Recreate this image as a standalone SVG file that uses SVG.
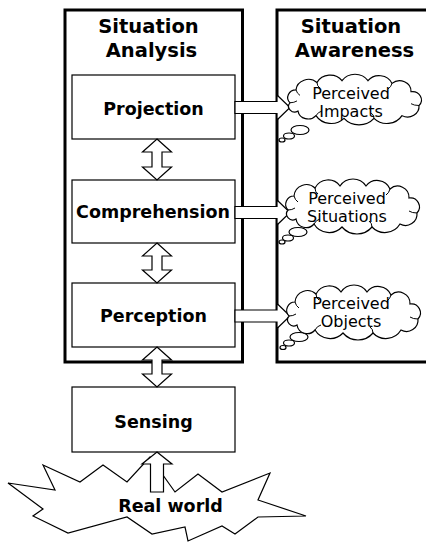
<svg xmlns="http://www.w3.org/2000/svg" xmlns:xlink="http://www.w3.org/1999/xlink" width="426" height="542" viewBox="0 0 426 542">
<style>
.outer{fill:#fff;stroke:#000;stroke-width:3}
.box{fill:#fff;stroke:#000;stroke-width:1.2}
.arr{fill:#fff;stroke:#000;stroke-width:1.2;stroke-linejoin:miter}
.cloud{fill:#fff;stroke:#000;stroke-width:1.2}
.curl{fill:none;stroke:#000;stroke-width:1}
.b{font-family:"DejaVu Sans",Verdana,sans-serif;font-weight:bold;font-size:17.5px;text-anchor:middle;fill:#000}
.t{font-family:"DejaVu Sans",Verdana,sans-serif;font-weight:bold;font-size:19.5px;text-anchor:middle;fill:#000}
.r{font-family:"DejaVu Sans",Verdana,sans-serif;font-size:16px;text-anchor:middle;fill:#000}
</style>
<defs>
<path id="cloudShape" d="M -64 3 A 8.3 8.3 0 0 1 -58 -11 A 12.5 12.5 0 0 1 -37 -19 A 14.7 14.7 0 0 1 -12 -21 A 15.6 15.6 0 0 1 14 -21 A 14 14 0 0 1 38 -18 A 11.4 11.4 0 0 1 57 -9 A 9 9 0 0 1 65 6 A 11.5 11.5 0 0 1 48 17 A 17.7 17.7 0 0 1 20 20 A 19.6 19.6 0 0 1 -10 20 A 17.7 17.7 0 0 1 -38 17 A 10.3 10.3 0 0 1 -56 12 A 6.1 6.1 0 0 1 -64 3 Z"/>
<path id="cloudCurls" d="M -58 -11 Q -57 -7 -54 -5 M -37 -19 Q -37 -15 -34 -13 M 38 -18 Q 37 -14 34 -12 M 65 6 Q 60 6 57 4 M 20 20 Q 20 16 17 14 M -38 17 Q -36 13 -32 12 M -64 3 Q -60 3 -57 1"/>
</defs>

<g id="situation-analysis">
<rect class="outer" x="65" y="10" width="177.5" height="352"/>
<text class="t" x="148.5" y="33">Situation</text>
<text class="t" x="151.5" y="57">Analysis</text>
</g>
<g id="situation-awareness">
<rect class="outer" x="277" y="10" width="170" height="352"/>
<text class="t" x="351" y="33">Situation</text>
<text class="t" x="354.5" y="57">Awareness</text>
</g>

<g id="projection">
<rect class="box" x="72" y="75" width="163" height="64"/>
<text class="b" x="153.5" y="115">Projection</text>
</g>
<g id="comprehension">
<rect class="box" x="72" y="180" width="163" height="63"/>
<text class="b" x="153" y="218">Comprehension</text>
</g>
<g id="perception">
<rect class="box" x="72" y="283" width="163" height="64"/>
<text class="b" x="153.5" y="322">Perception</text>
</g>
<g id="sensing">
<rect class="box" x="72" y="387" width="163" height="65"/>
<text class="b" x="153.5" y="428">Sensing</text>
</g>

<g id="real-world">
<polygon class="box" points="43,465 80,482 103,465 127,482 150,457 175,492 198,474 222,492 270,473 258,500 306,516 258,517 235,534 222,526 188,541 185,527 152,534 127,517 68,533 33,516 43,509 8,483 55,490"/>
</g>

<g id="connectors">
<polygon class="arr" points="157,139 171.5,152 162,152 162,167 171.5,167 157,180 142.5,167 152,167 152,152 142.5,152"/>
<polygon class="arr" points="157,243 171.5,256 162,256 162,270 171.5,270 157,283 142.5,270 152,270 152,256 142.5,256"/>
<polygon class="arr" points="157,347 171.5,360 162,360 162,374 171.5,374 157,387 142.5,374 152,374 152,360 142.5,360"/>
<polygon class="arr" points="157,452 172,464 163.5,464 163.5,492 150.5,492 150.5,464 142,464"/>
<polygon class="arr" points="235,101.5 277,101.5 277,95 290,107.5 277,120 277,113.5 235,113.5"/>
<polygon class="arr" points="235,206.5 277,206.5 277,200 290,212.5 277,225 277,218.5 235,218.5"/>
<polygon class="arr" points="235,310 277,310 277,303.5 290,316 277,328.5 277,322 235,322"/>
</g>

<g id="real-world-label">
<text class="b" x="170.5" y="512">Real world</text>
</g>

<g id="perceived-impacts">
<ellipse class="cloud" cx="300" cy="130" rx="9" ry="4.5"/>
<ellipse class="cloud" cx="289" cy="136" rx="5.5" ry="3"/>
<ellipse class="cloud" cx="282" cy="140" rx="3" ry="2"/>
<g transform="translate(354,100) scale(1,0.92)">
<use href="#cloudShape" xlink:href="#cloudShape" class="cloud" style="vector-effect:non-scaling-stroke"/>
<use href="#cloudCurls" xlink:href="#cloudCurls" class="curl" style="vector-effect:non-scaling-stroke"/>
</g>
<text class="r" x="351" y="98.5">Perceived</text>
<text class="r" x="351" y="117">Impacts</text>
</g>
<g id="perceived-situations">
<ellipse class="cloud" cx="298" cy="232" rx="9" ry="4.5"/>
<ellipse class="cloud" cx="288" cy="238" rx="5.5" ry="3"/>
<ellipse class="cloud" cx="282" cy="242" rx="3" ry="2"/>
<g transform="translate(352,207)">
<use href="#cloudShape" xlink:href="#cloudShape" class="cloud"/>
<use href="#cloudCurls" xlink:href="#cloudCurls" class="curl"/>
</g>
<text class="r" x="347" y="203.5">Perceived</text>
<text class="r" x="347" y="222">Situations</text>
</g>
<g id="perceived-objects">
<ellipse class="cloud" cx="299" cy="337" rx="9" ry="4.5"/>
<ellipse class="cloud" cx="289" cy="343" rx="5.5" ry="3"/>
<ellipse class="cloud" cx="283" cy="347.5" rx="3" ry="2"/>
<g transform="translate(353,313)">
<use href="#cloudShape" xlink:href="#cloudShape" class="cloud"/>
<use href="#cloudCurls" xlink:href="#cloudCurls" class="curl"/>
</g>
<text class="r" x="351" y="308.5">Perceived</text>
<text class="r" x="351" y="327">Objects</text>
</g>
</svg>
